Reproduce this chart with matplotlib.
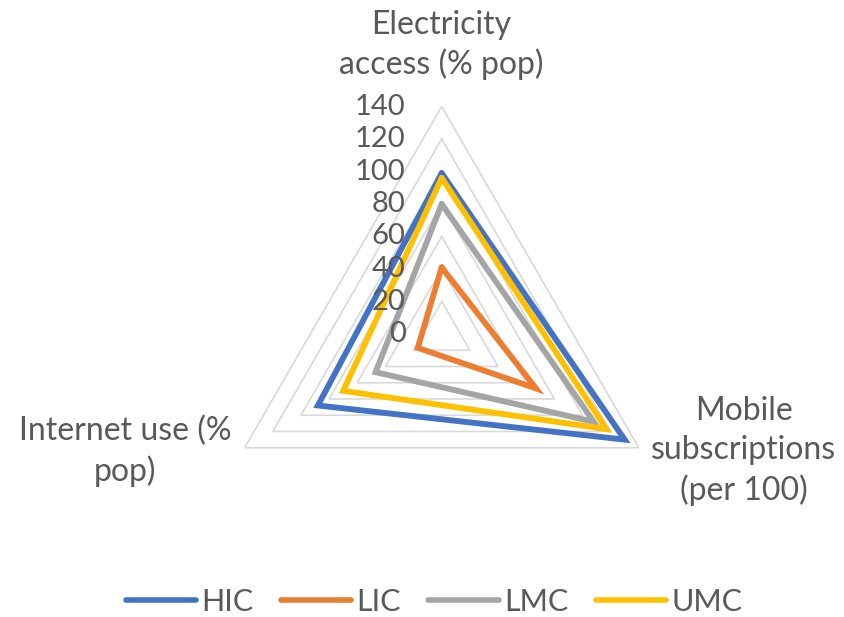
import numpy as np
import matplotlib
matplotlib.use("Agg")
import matplotlib.pyplot as plt

categories = ["Electricity\naccess (% pop)", "Mobile\nsubscriptions\n(per 100)", "Internet use (%\npop)"]
series_names = ["HIC", "LIC", "LMC", "UMC"]
hic = [99, 130, 88]
lic = [41, 67, 17]
lmc = [80, 108, 47]
umc = [96, 117, 70]
r_ticks = [0, 20, 40, 60, 80, 100, 120, 140]

colors = ["#4472C4", "#ED7D31", "#A5A5A5", "#FFC000"]
text_color = "#595959"
grid_color = "#D9D9D9"
font = "Lato"

W, H = 845, 617
fig = plt.figure(figsize=(W / 100, H / 100), dpi=100)

cx, cy, rad = 441.7, 334.0, 227.5
ax = fig.add_axes([(cx - rad) / W, (H - cy - rad) / H, 2 * rad / W, 2 * rad / H],
                  projection="polar")
ax.set_theta_offset(np.pi / 2)
ax.set_theta_direction(-1)
ax.set_ylim(0, r_ticks[-1])
ax.grid(False)
ax.spines["polar"].set_visible(False)
ax.set_xticks([])
ax.set_yticks([])
ax.patch.set_alpha(0)

angles = np.arange(len(categories)) * 2 * np.pi / len(categories)
closed = np.append(angles, angles[0])

# polygon grid
for r in r_ticks[1:]:
    ax.plot(closed, [r] * (len(angles) + 1), color=grid_color, lw=1.2, zorder=1)

series = [hic, lic, lmc, umc]
for name, vals, c in zip(series_names, series, colors):
    ax.plot(closed, vals + vals[:1], color=c, lw=4.2, label=name,
            solid_joinstyle="miter", solid_capstyle="round", zorder=3)

# radial tick labels along the top axis
for r in r_ticks:
    ax.annotate(str(r), xy=(0, r), xytext=(-26, 0), textcoords="offset points",
                ha="right", va="center", fontsize=21, color=text_color,
                family=font, zorder=4)

# category labels
label_pos = [(441, 45), (744, 451), (125, 451)]
for txt, (x, y) in zip(categories, label_pos):
    fig.text(x / W, 1 - y / H, txt, ha="center", va="center", fontsize=23,
             color=text_color, family=font, linespacing=1.36)

leg = fig.legend(loc="center", bbox_to_anchor=(434 / W, 1 - 602 / H), ncol=4,
                 frameon=False, handlelength=2.3, handletextpad=0.17,
                 columnspacing=0.9, borderpad=0, borderaxespad=0,
                 prop={"family": font, "size": 22})
for line in leg.get_lines():
    line.set_linewidth(4.0)
    line.set_solid_capstyle("round")
for t in leg.get_texts():
    t.set_color(text_color)

fig.savefig("out.png", dpi=100)
